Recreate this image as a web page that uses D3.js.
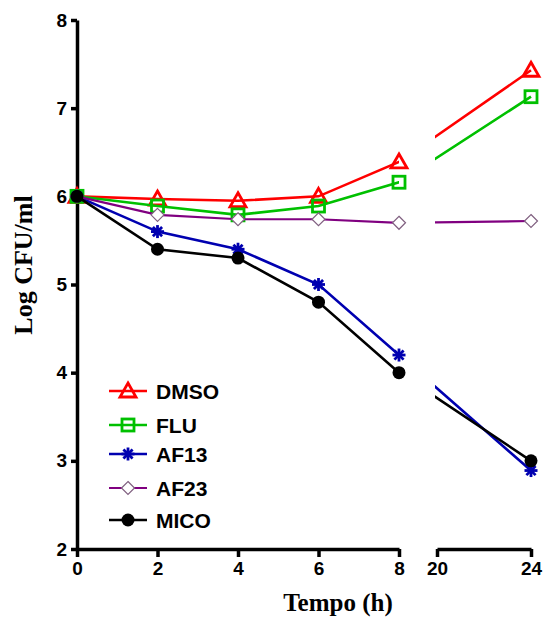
<!DOCTYPE html>
<html><head><meta charset="utf-8">
<script src="https://cdn.jsdelivr.net/npm/d3@7"></script>
<style>body{margin:0;background:#fff;} svg{display:block;}</style>
</head><body>
<svg id="c" width="543" height="617"></svg>
<script>
const times = [0, 2, 4, 6, 8, 24];
const seriesNames = ["DMSO", "FLU", "AF13", "AF23", "MICO"];
const dmso = [6.0, 5.97, 5.95, 6.0, 6.39, 7.43];
const flu  = [6.0, 5.89, 5.79, 5.89, 6.16, 7.13];
const af13 = [6.0, 5.6, 5.4, 5.0, 4.2, 2.89];
const af23 = [6.0, 5.79, 5.74, 5.74, 5.70, 5.72];
const mico = [6.0, 5.4, 5.3, 4.8, 4.0, 3.0];
const yTicks = [2, 3, 4, 5, 6, 7, 8];
const xTicksLeft = [0, 2, 4, 6, 8];
const xTicksRight = [20, 24];
const colors = ["#ff0000", "#00c000", "#0000b0", "#800080", "#000000"];
const values = [dmso, flu, af13, af23, mico];

const svg = d3.select("#c");
const x = d3.scaleLinear().domain([0, 8, 20, 24]).range([77, 399, 437, 531]);
const xL = d3.scaleLinear().domain([0, 8]).range([77, 399]);
const xR = d3.scaleLinear().domain([20, 24]).range([437, 531]);
const y = d3.scaleLinear().domain([2, 8]).range([549, 20]);

// clip for broken axis
const defs = svg.append("defs");
const cp = defs.append("clipPath").attr("id", "brk");
cp.append("rect").attr("x", 0).attr("y", 0).attr("width", 399).attr("height", 617);
cp.append("rect").attr("x", 435).attr("y", 0).attr("width", 120).attr("height", 617);

function styleAxis(g) {
  g.selectAll("path.domain").attr("stroke", "#000").attr("stroke-width", 3.5);
  g.selectAll(".tick line").attr("stroke", "#000").attr("stroke-width", 3.5);
  g.selectAll(".tick text").attr("fill", "#000")
    .style("font-family", "Arial, 'Liberation Sans', sans-serif")
    .style("font-weight", "bold").style("font-size", "19px");
}

const gy = svg.append("g").attr("transform", "translate(77,0)")
  .call(d3.axisLeft(y).tickValues(yTicks).tickSize(6).tickSizeOuter(0).tickFormat(d3.format("d")).tickPadding(4));
styleAxis(gy);
const gxl = svg.append("g").attr("transform", "translate(0,549)")
  .call(d3.axisBottom(xL).tickValues(xTicksLeft).tickSize(8).tickSizeOuter(0).tickFormat(d3.format("d")).tickPadding(5));
styleAxis(gxl);
const gxr = svg.append("g").attr("transform", "translate(0,549)")
  .call(d3.axisBottom(xR).tickValues(xTicksRight).tickSize(8).tickSizeOuter(0).tickFormat(d3.format("d")).tickPadding(5));
styleAxis(gxr);

// axis titles
svg.append("text").attr("transform", "translate(32,265) rotate(-90)")
  .attr("text-anchor", "middle")
  .style("font-family", "'Liberation Serif', 'Times New Roman', serif")
  .style("font-weight", "bold").style("font-size", "26px").text("Log CFU/ml");
svg.append("text").attr("x", 338).attr("y", 611).attr("text-anchor", "middle")
  .style("font-family", "'Liberation Serif', 'Times New Roman', serif")
  .style("font-weight", "bold").style("font-size", "25px").text("Tempo (h)");

// marker drawing
function drawMarker(g, i, cx, cy) {
  const c = colors[i];
  if (i === 0) {
    const s = 8;
    g.append("path").attr("d", `M${cx},${cy - s}L${cx + s},${cy + s * 0.75}L${cx - s},${cy + s * 0.75}Z`)
      .attr("fill", "none").attr("stroke", c).attr("stroke-width", 2.8);
  } else if (i === 1) {
    const s = 6;
    g.append("rect").attr("x", cx - s).attr("y", cy - s).attr("width", 2 * s).attr("height", 2 * s)
      .attr("fill", "none").attr("stroke", c).attr("stroke-width", 2.8);
  } else if (i === 2) {
    const r = 6.5;
    for (let k = 0; k < 4; k++) {
      const a = k * Math.PI / 4;
      g.append("line").attr("x1", cx - r * Math.cos(a)).attr("y1", cy - r * Math.sin(a))
        .attr("x2", cx + r * Math.cos(a)).attr("y2", cy + r * Math.sin(a))
        .attr("stroke", c).attr("stroke-width", 2.8);
    }
    g.append("circle").attr("cx", cx).attr("cy", cy).attr("r", 3).attr("fill", c);
  } else if (i === 3) {
    const s = 6.5;
    g.append("path").attr("d", `M${cx},${cy - s}L${cx + s},${cy}L${cx},${cy + s}L${cx - s},${cy}Z`)
      .attr("fill", "#fff").attr("stroke", "#806080").attr("stroke-width", 1.2);
  } else {
    g.append("circle").attr("cx", cx).attr("cy", cy).attr("r", 6.5).attr("fill", c);
  }
}

const line = d3.line().x(d => x(d[0])).y(d => y(d[1]));
seriesNames.forEach((name, i) => {
  const pts = times.map((t, j) => [t, values[i][j]]);
  svg.append("path").datum(pts).attr("d", line).attr("fill", "none")
    .attr("stroke", colors[i]).attr("stroke-width", i === 3 ? 2.2 : 2.6)
    .attr("clip-path", "url(#brk)");
  const mg = svg.append("g");
  pts.forEach(p => drawMarker(mg, i, x(p[0]), y(p[1])));
});

// legend
const legY = [391, 425, 454, 488, 520];
seriesNames.forEach((name, i) => {
  const ly = legY[i];
  const g = svg.append("g");
  g.append("line").attr("x1", 109).attr("x2", 147).attr("y1", ly).attr("y2", ly)
    .attr("stroke", colors[i]).attr("stroke-width", i === 3 ? 2.2 : 2.6);
  drawMarker(g, i, 128, ly);
  g.append("text").attr("x", 156).attr("y", ly + 7.5)
    .style("font-family", "Arial, 'Liberation Sans', sans-serif")
    .style("font-weight", "bold").style("font-size", "21px").text(name);
});
</script>
</body></html>
